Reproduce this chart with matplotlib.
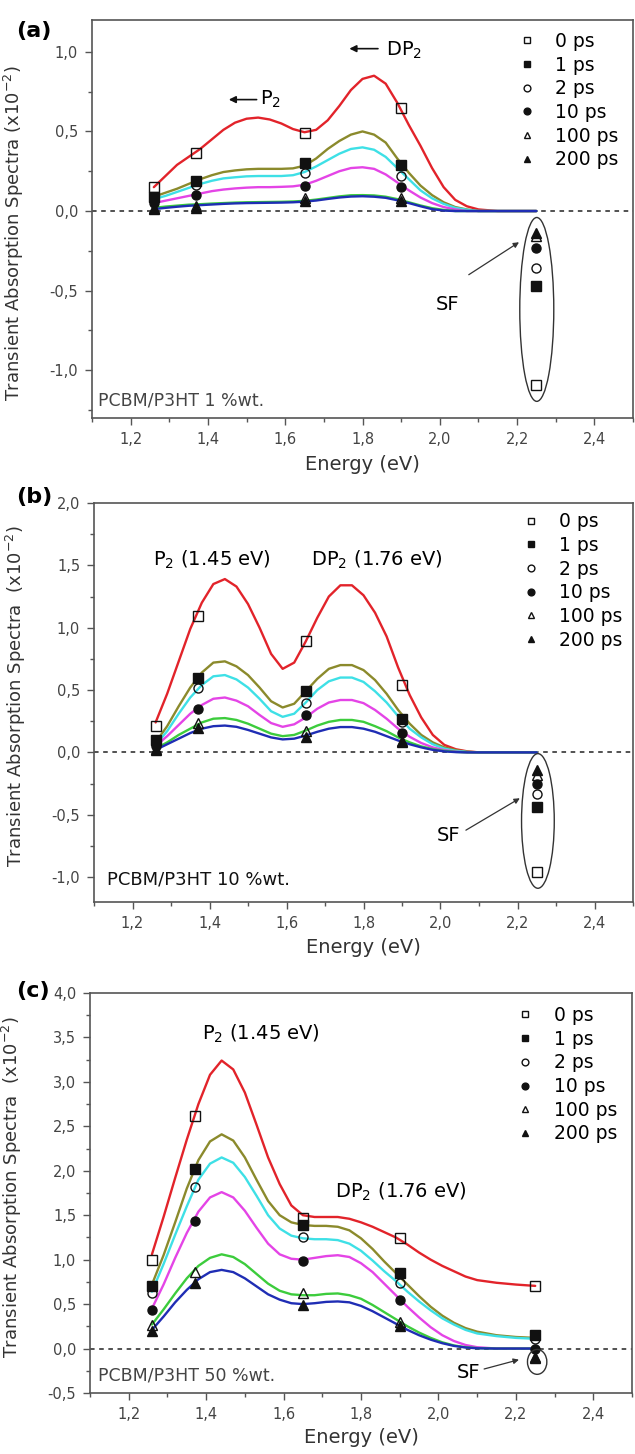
import matplotlib
matplotlib.use('Agg')
import matplotlib.pyplot as plt
from matplotlib.patches import Ellipse
from matplotlib.ticker import MultipleLocator, FuncFormatter

# Energien der Messpunkte (eV)
energy_pts = [1.26, 1.37, 1.65, 1.90, 2.25]
delays = ['0 ps', '1 ps', '2 ps', '10 ps', '100 ps', '200 ps']

# Stuetzstellen der Fitkurven (eV)
curve_e = [1.26, 1.29, 1.32, 1.35, 1.38, 1.41, 1.44, 1.47, 1.50, 1.53, 1.56,
           1.59, 1.62, 1.65, 1.68, 1.71, 1.74, 1.77, 1.80, 1.83, 1.86, 1.89,
           1.92, 1.95, 1.98, 2.01, 2.04, 2.07, 2.10, 2.15, 2.20, 2.25]

# (a) PCBM/P3HT 1 %wt. - Messpunkte
ps0_a = [0.15, 0.365, 0.49, 0.65, -1.09]
ps1_a = [0.09, 0.19, 0.30, 0.29, -0.47]
ps2_a = [0.07, 0.165, 0.24, 0.22, -0.36]
ps10_a = [0.05, 0.10, 0.16, 0.15, -0.235]
ps100_a = [0.02, 0.03, 0.085, 0.08, -0.155]
ps200_a = [0.015, 0.02, 0.06, 0.065, -0.14]
# (a) Fitkurven
red_a = [0.15, 0.22, 0.29, 0.34, 0.39, 0.45, 0.51, 0.555, 0.58, 0.587, 0.575,
         0.55, 0.515, 0.495, 0.51, 0.57, 0.66, 0.76, 0.83, 0.85, 0.80, 0.68,
         0.54, 0.41, 0.27, 0.15, 0.07, 0.03, 0.01, 0.0, 0.0, 0.0]
olive_a = [0.09, 0.115, 0.14, 0.17, 0.20, 0.225, 0.245, 0.255, 0.262, 0.265, 0.265,
           0.265, 0.268, 0.285, 0.33, 0.39, 0.44, 0.48, 0.50, 0.48, 0.43, 0.33,
           0.24, 0.16, 0.10, 0.055, 0.025, 0.01, 0.0, 0.0, 0.0, 0.0]
cyan_a = [0.075, 0.095, 0.12, 0.145, 0.17, 0.19, 0.205, 0.212, 0.218, 0.22, 0.22,
          0.22, 0.225, 0.245, 0.28, 0.32, 0.36, 0.39, 0.40, 0.385, 0.34, 0.27,
          0.20, 0.13, 0.08, 0.045, 0.02, 0.008, 0.0, 0.0, 0.0, 0.0]
magenta_a = [0.05, 0.065, 0.08, 0.095, 0.11, 0.125, 0.135, 0.142, 0.147, 0.15, 0.15,
             0.152, 0.155, 0.165, 0.19, 0.22, 0.25, 0.27, 0.275, 0.265, 0.23, 0.18,
             0.13, 0.085, 0.05, 0.025, 0.01, 0.0, 0.0, 0.0, 0.0, 0.0]
green_a = [0.02, 0.028, 0.034, 0.04, 0.043, 0.047, 0.05, 0.053, 0.055, 0.056, 0.057,
           0.058, 0.06, 0.064, 0.072, 0.082, 0.092, 0.099, 0.10, 0.098, 0.09, 0.075,
           0.055, 0.035, 0.018, 0.007, 0.0, 0.0, 0.0, 0.0, 0.0, 0.0]
blue_a = [0.012, 0.02, 0.027, 0.033, 0.037, 0.041, 0.045, 0.048, 0.05, 0.051, 0.052,
          0.053, 0.055, 0.059, 0.066, 0.076, 0.085, 0.091, 0.093, 0.09, 0.083, 0.068,
          0.05, 0.03, 0.012, 0.003, 0.0, 0.0, 0.0, 0.0, 0.0, 0.0]

# (b) PCBM/P3HT 10 %wt. - Messpunkte
ps0_b = [0.21, 1.09, 0.89, 0.54, -0.96]
ps1_b = [0.10, 0.60, 0.49, 0.27, -0.44]
ps2_b = [0.07, 0.515, 0.40, 0.24, -0.33]
ps10_b = [0.05, 0.35, 0.30, 0.155, -0.25]
ps100_b = [0.03, 0.235, 0.175, 0.095, -0.18]
ps200_b = [0.02, 0.197, 0.123, 0.083, -0.145]
# (b) Fitkurven
red_b = [0.24, 0.47, 0.73, 0.99, 1.20, 1.35, 1.39, 1.33, 1.19, 1.00, 0.79,
         0.67, 0.72, 0.89, 1.08, 1.25, 1.34, 1.34, 1.26, 1.12, 0.93, 0.68,
         0.46, 0.28, 0.14, 0.06, 0.025, 0.008, 0.0, 0.0, 0.0, 0.0]
olive_b = [0.08, 0.21, 0.37, 0.52, 0.64, 0.72, 0.73, 0.69, 0.62, 0.52, 0.41,
           0.36, 0.39, 0.49, 0.59, 0.67, 0.70, 0.70, 0.66, 0.58, 0.47, 0.34,
           0.23, 0.14, 0.08, 0.04, 0.018, 0.005, 0.0, 0.0, 0.0, 0.0]
cyan_b = [0.06, 0.17, 0.31, 0.44, 0.54, 0.61, 0.62, 0.585, 0.52, 0.43, 0.33,
          0.285, 0.31, 0.40, 0.50, 0.57, 0.60, 0.60, 0.565, 0.49, 0.40, 0.29,
          0.19, 0.12, 0.065, 0.03, 0.012, 0.003, 0.0, 0.0, 0.0, 0.0]
magenta_b = [0.05, 0.13, 0.22, 0.31, 0.38, 0.43, 0.44, 0.415, 0.37, 0.30, 0.235,
             0.205, 0.225, 0.28, 0.35, 0.40, 0.42, 0.42, 0.395, 0.34, 0.27, 0.19,
             0.125, 0.075, 0.04, 0.018, 0.006, 0.0, 0.0, 0.0, 0.0, 0.0]
green_b = [0.03, 0.08, 0.14, 0.19, 0.24, 0.27, 0.275, 0.26, 0.23, 0.19, 0.15,
           0.13, 0.14, 0.175, 0.215, 0.245, 0.26, 0.26, 0.245, 0.21, 0.17, 0.12,
           0.08, 0.048, 0.026, 0.012, 0.004, 0.0, 0.0, 0.0, 0.0, 0.0]
blue_b = [0.02, 0.065, 0.11, 0.155, 0.19, 0.21, 0.215, 0.205, 0.18, 0.15, 0.12,
          0.104, 0.11, 0.135, 0.165, 0.19, 0.203, 0.203, 0.19, 0.165, 0.13, 0.095,
          0.065, 0.04, 0.02, 0.008, 0.002, 0.0, 0.0, 0.0, 0.0, 0.0]

# (c) PCBM/P3HT 50 %wt. - Messpunkte
ps0_c = [1.00, 2.62, 1.47, 1.24, 0.70]
ps1_c = [0.70, 2.02, 1.39, 0.85, 0.15]
ps2_c = [0.62, 1.82, 1.25, 0.74, 0.11]
ps10_c = [0.43, 1.44, 0.99, 0.55, 0.0]
ps100_c = [0.26, 0.86, 0.62, 0.30, -0.10]
ps200_c = [0.20, 0.74, 0.49, 0.25, -0.11]
# (c) Fitkurven
red_c = [1.06, 1.48, 1.92, 2.35, 2.75, 3.08, 3.24, 3.14, 2.88, 2.52, 2.15,
         1.85, 1.61, 1.50, 1.48, 1.48, 1.48, 1.46, 1.42, 1.37, 1.31, 1.25,
         1.17, 1.08, 1.00, 0.93, 0.87, 0.81, 0.77, 0.74, 0.72, 0.705]
olive_c = [0.72, 1.05, 1.42, 1.80, 2.12, 2.33, 2.41, 2.34, 2.15, 1.90, 1.66,
           1.50, 1.42, 1.39, 1.38, 1.38, 1.37, 1.33, 1.24, 1.12, 0.98, 0.85,
           0.72, 0.59, 0.47, 0.37, 0.29, 0.23, 0.19, 0.15, 0.13, 0.12]
cyan_c = [0.64, 0.95, 1.28, 1.60, 1.90, 2.08, 2.15, 2.09, 1.93, 1.72, 1.50,
          1.35, 1.27, 1.24, 1.23, 1.23, 1.22, 1.18, 1.10, 0.99, 0.87, 0.76,
          0.64, 0.53, 0.43, 0.34, 0.27, 0.21, 0.17, 0.14, 0.12, 0.11]
magenta_c = [0.45, 0.72, 1.02, 1.30, 1.54, 1.70, 1.76, 1.70, 1.55, 1.36, 1.18,
             1.06, 1.01, 1.00, 1.02, 1.04, 1.05, 1.03, 0.96, 0.86, 0.73, 0.60,
             0.47, 0.35, 0.24, 0.15, 0.085, 0.04, 0.015, 0.0, 0.0, 0.0]
green_c = [0.27, 0.44, 0.62, 0.79, 0.93, 1.02, 1.06, 1.03, 0.95, 0.84, 0.73,
           0.65, 0.61, 0.60, 0.60, 0.615, 0.62, 0.60, 0.56, 0.49, 0.41, 0.33,
           0.25, 0.18, 0.12, 0.07, 0.035, 0.015, 0.005, 0.0, 0.0, 0.0]
blue_c = [0.21, 0.36, 0.52, 0.66, 0.78, 0.86, 0.885, 0.86, 0.79, 0.70, 0.61,
          0.55, 0.51, 0.50, 0.51, 0.525, 0.53, 0.52, 0.48, 0.42, 0.35, 0.28,
          0.21, 0.15, 0.10, 0.06, 0.03, 0.012, 0.003, 0.0, 0.0, 0.0]

# Farben der Kurven und Marker je Verzoegerungszeit
line_colors = ['#e2232a', '#8b8a2c', '#3ee0e6', '#e444e6', '#3ccc3c', '#1f2db4']
marker_styles = [('s', 'none'), ('s', '#111111'), ('o', 'none'),
                 ('o', '#111111'), ('^', 'none'), ('^', '#111111')]

fig = plt.figure(figsize=(6.35, 14.54), dpi=100)
W, H = 635, 1454


def axes_px(left, top, right, bottom):
    return fig.add_axes([left / W, 1 - bottom / H, (right - left) / W, (bottom - top) / H])


def komma(v, pos):
    if abs(v) < 1e-9:
        v = 0.0
    return f'{v:.1f}'.replace('.', ',')


def panel(ax, curves, points, ylim, ylab, ylab_y, xlab_y, leg_xy):
    ax.axhline(0, color='#222222', lw=1.1, ls=(0, (3, 3)), zorder=1)
    for ys, c in zip(curves, line_colors):
        ax.plot(curve_e, ys, color=c, lw=1.7, zorder=2,
                solid_joinstyle='round', solid_capstyle='round')
    for ys, (m, fc), lab in zip(points, marker_styles, delays):
        ax.plot(energy_pts, ys, ls='none', marker=m, ms=6.5, mfc=fc,
                mec='#111111', mew=1.0, label=lab, zorder=3)
    ax.set_xlim(1.1, 2.5)
    ax.set_ylim(*ylim)
    ax.xaxis.set_major_locator(MultipleLocator(0.2))
    ax.xaxis.set_minor_locator(MultipleLocator(0.1))
    ax.yaxis.set_major_locator(MultipleLocator(0.5))
    ax.yaxis.set_minor_locator(MultipleLocator(0.25))
    ax.xaxis.set_major_formatter(FuncFormatter(komma))
    ax.yaxis.set_major_formatter(FuncFormatter(komma))
    ax.tick_params(which='major', direction='out', length=5, width=1,
                   color='#555555', labelsize=10.5, labelcolor='#444444', pad=5)
    ax.tick_params(which='minor', direction='out', length=3, width=1, color='#555555')
    for s in ax.spines.values():
        s.set_color('#555555')
        s.set_linewidth(1.2)
    ax.set_xlabel('Energy (eV)', fontsize=14, color='#333333')
    ax.xaxis.set_label_coords(0.5, xlab_y)
    ax.set_ylabel(ylab, fontsize=13, color='#333333')
    ax.yaxis.set_label_coords(-0.122, ylab_y)
    ax.legend(loc='upper left', bbox_to_anchor=leg_xy, frameon=False, fontsize=13.5,
              handlelength=1.0, handletextpad=1.0, labelspacing=0.25, borderpad=0,
              borderaxespad=0, markerscale=0.75)


def pfeil(ax, head, tail, lw=1.2, ms=10, color='#111111'):
    ax.annotate('', xy=head, xytext=tail,
                arrowprops=dict(arrowstyle='-|>', color=color, lw=lw,
                                mutation_scale=ms, shrinkA=0, shrinkB=0))


# ---- (a) ----
ax_a = axes_px(92, 20, 633, 418)
panel(ax_a, [red_a, olive_a, cyan_a, magenta_a, green_a, blue_a],
      [ps0_a, ps1_a, ps2_a, ps10_a, ps100_a, ps200_a], (-1.3, 1.2),
      r'Transient Absorption Spectra (x10$^{\mathregular{-2}}$)', 0.465, -0.093,
      (0.786, 0.970))
pfeil(ax_a, (1.454, 0.70), (1.526, 0.70))
ax_a.text(1.535, 0.67, r'P$_2$', fontsize=14, ha='left', va='baseline')
pfeil(ax_a, (1.766, 1.02), (1.84, 1.02))
ax_a.text(1.861, 0.975, r'DP$_2$', fontsize=14, ha='left', va='baseline')
ax_a.add_patch(Ellipse((2.251, -0.618), 0.088, 1.155, fill=False,
                       ec='#333333', lw=1.0, zorder=4))
ax_a.text(2.02, -0.59, 'SF', fontsize=14, ha='center', va='center')
pfeil(ax_a, (2.205, -0.196), (2.075, -0.40), lw=0.9, ms=8, color='#333333')
ax_a.text(1.115, -1.22, 'PCBM/P3HT 1 %wt.', fontsize=12.5, color='#444444',
          ha='left', va='baseline')
fig.text(16 / W, 1 - 37 / H, '(a)', fontsize=16, fontweight='bold', va='baseline')

# ---- (b) ----
ax_b = axes_px(94, 503, 633, 902)
panel(ax_b, [red_b, olive_b, cyan_b, magenta_b, green_b, blue_b],
      [ps0_b, ps1_b, ps2_b, ps10_b, ps100_b, ps200_b], (-1.2, 2.0),
      r'Transient Absorption Spectra  (x10$^{\mathregular{-2}}$)', 0.516, -0.09,
      (0.794, 0.977))
ax_b.text(1.254, 1.50, r'P$_2$ (1.45 eV)', fontsize=14, ha='left', va='baseline')
ax_b.text(1.664, 1.50, r'DP$_2$ (1.76 eV)', fontsize=14, ha='left', va='baseline')
ax_b.add_patch(Ellipse((2.253, -0.55), 0.085, 1.08, fill=False,
                       ec='#333333', lw=1.0, zorder=4))
ax_b.text(2.02, -0.664, 'SF', fontsize=14, ha='center', va='center')
pfeil(ax_b, (2.206, -0.368), (2.066, -0.624), lw=0.9, ms=8, color='#333333')
ax_b.text(1.135, -1.056, 'PCBM/P3HT 10 %wt.', fontsize=13, color='#111111',
          ha='left', va='baseline')
fig.text(16 / W, 1 - 503 / H, '(b)', fontsize=16, fontweight='bold', va='baseline')

# ---- (c) ----
ax_c = axes_px(90, 993, 632, 1393)
panel(ax_c, [red_c, olive_c, cyan_c, magenta_c, green_c, blue_c],
      [ps0_c, ps1_c, ps2_c, ps10_c, ps100_c, ps200_c], (-0.5, 4.0),
      r'Transient Absorption Spectra  (x10$^{\mathregular{-2}}$)', 0.515, -0.0875,
      (0.786, 0.9675))
ax_c.text(1.39, 3.48, r'P$_2$ (1.45 eV)', fontsize=14, ha='left', va='baseline')
ax_c.text(1.733, 1.70, r'DP$_2$ (1.76 eV)', fontsize=14, ha='left', va='baseline')
ax_c.add_patch(Ellipse((2.255, -0.15), 0.05, 0.28, fill=False,
                       ec='#333333', lw=1.0, zorder=4))
ax_c.text(2.077, -0.27, 'SF', fontsize=14, ha='center', va='center')
pfeil(ax_c, (2.208, -0.125), (2.118, -0.23), lw=0.9, ms=8, color='#333333')
ax_c.text(1.12, -0.364, 'PCBM/P3HT 50 %wt.', fontsize=12.5, color='#444444',
          ha='left', va='baseline')
fig.text(16 / W, 1 - 997 / H, '(c)', fontsize=16, fontweight='bold', va='baseline')

fig.savefig('out.png', dpi=100)
